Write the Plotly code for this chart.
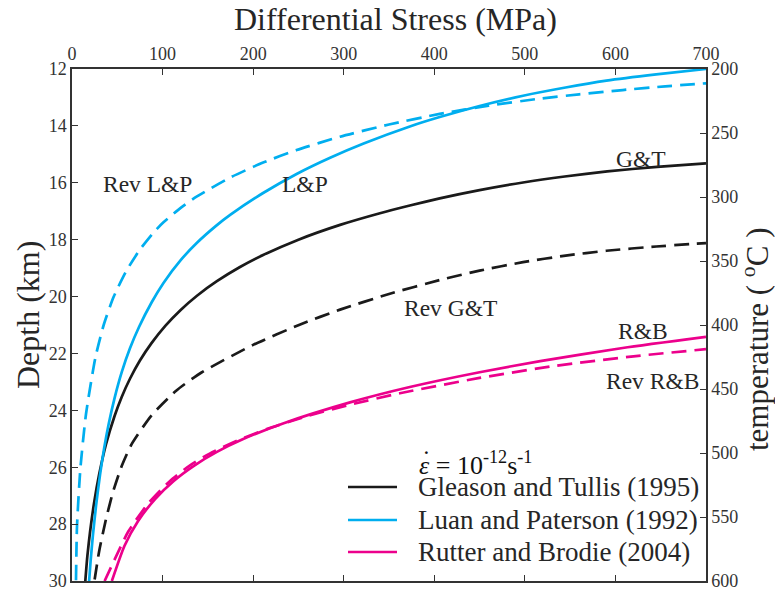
import plotly.graph_objects as go

# ---- data (differential stress in MPa, depth in km) ----
gt_stress = [14.7, 17, 20, 24.5, 30, 37.5, 47, 55, 64, 75, 88, 103, 120, 138, 160, 185, 211, 250, 296, 340, 373, 406, 450, 498, 544, 591, 646, 700]
gt_depth = [30, 29.11, 28.26, 27.23, 26.25, 25.2, 24.2, 23.52, 22.89, 22.25, 21.63, 21.03, 20.47, 19.97, 19.46, 18.97, 18.54, 18.0, 17.48, 17.07, 16.8, 16.55, 16.26, 15.99, 15.78, 15.6, 15.44, 15.32]

lp_stress = [18.9, 20.5, 23, 26.5, 31, 35.5, 40.5, 47, 55, 64, 74, 88, 101, 120, 138, 160, 175, 211, 248, 285, 322, 373, 406, 450, 498, 545, 590, 645, 700]
lp_depth = [30, 29.32, 28.42, 27.37, 26.25, 25.33, 24.48, 23.57, 22.65, 21.82, 21.07, 20.20, 19.52, 18.72, 18.11, 17.49, 17.12, 16.36, 15.69, 15.12, 14.62, 14.02, 13.69, 13.30, 12.94, 12.65, 12.41, 12.19, 12.0]

revlp_stress = [4.4, 5.5, 9.2, 15.5, 26, 35, 46, 60, 75, 90, 101, 120, 138, 175, 211, 248, 296, 350, 406, 460, 517, 560, 608, 655, 701]
revlp_depth = [29.97, 28.1, 26.07, 24.12, 22.12, 21.0, 20.01, 19.10, 18.35, 17.75, 17.39, 16.88, 16.48, 15.81, 15.29, 14.85, 14.38, 13.95, 13.58, 13.29, 13.04, 12.89, 12.74, 12.61, 12.5]

revgt_stress = [25, 30, 37, 45, 55, 66, 88, 115, 143, 200, 252, 296, 350, 406, 450, 498, 545, 590, 645, 700]
revgt_depth = [29.95, 28.95, 27.9, 26.9, 25.95, 25.18, 24.17, 23.31, 22.67, 21.70, 20.98, 20.46, 19.91, 19.42, 19.09, 18.79, 18.56, 18.39, 18.24, 18.12]

rb_stress = [44, 58, 73, 92, 112, 135, 160, 189, 233, 307, 373, 450, 517, 608, 700]
rb_depth = [30, 28.76, 27.89, 27.11, 26.49, 25.94, 25.46, 25.01, 24.46, 23.72, 23.18, 22.66, 22.27, 21.81, 21.42]

revrb_stress = [36, 47, 62, 84, 108, 130, 152, 185, 215, 260, 307, 362, 450, 535, 620, 700]
revrb_depth = [30, 29.25, 28.27, 27.28, 26.49, 25.94, 25.52, 25.03, 24.66, 24.20, 23.80, 23.40, 22.86, 22.43, 22.10, 21.85]

x_ticks = [0, 100, 200, 300, 400, 500, 600, 700]
depth_ticks = [12, 14, 16, 18, 20, 22, 24, 26, 28, 30]
temp_ticks = [200, 250, 300, 350, 400, 450, 500, 550, 600]

legend_names = ["Gleason and Tullis (1995)", "Luan and Paterson (1992)", "Rutter and Brodie (2004)"]

BLACK = "#1a1a1a"
CYAN = "#00aeef"
MAGENTA = "#ec008c"
FONT = "Liberation Serif, 'Times New Roman', Times, serif"
DASH = "15px,8px"
TXT = "#262626"

# plot-area geometry in pixels (used only to place paper-referenced text)
L, R, T, B = 72, 706, 69, 581


def px(xp):
    return (xp - L) / (R - L)


def py(yp):
    return (B - yp) / (B - T)


fig = go.Figure()


def add(x, y, color, dash, name):
    fig.add_trace(go.Scatter(
        x=x, y=y, mode="lines", name=name, showlegend=False,
        line=dict(color=color, width=2.7, dash=dash, shape="spline", smoothing=0.6),
        hoverinfo="skip"))


add(gt_stress, gt_depth, BLACK, "solid", legend_names[0])
add(lp_stress, lp_depth, CYAN, "solid", legend_names[1])
add(rb_stress, rb_depth, MAGENTA, "solid", legend_names[2])
add(revgt_stress, revgt_depth, BLACK, DASH, "Rev G&T")
add(revlp_stress, revlp_depth, CYAN, DASH, "Rev L&P")
add(revrb_stress, revrb_depth, MAGENTA, DASH, "Rev R&B")

# invisible trace to activate the temperature axis
fig.add_trace(go.Scatter(x=[0, 0], y=[temp_ticks[0], temp_ticks[-1]], yaxis="y2",
                         mode="lines", line=dict(width=0), showlegend=False,
                         hoverinfo="skip", opacity=0))

curve_labels = [
    ("Rev L&P", 83, 16.05),
    ("L&P", 257, 16.05),
    ("G&T", 628, 15.15),
    ("Rev G&T", 418, 20.4),
    ("R&B", 630, 21.2),
    ("Rev R&B", 641, 22.98),
]
for t, x, y in curve_labels:
    fig.add_annotation(x=x, y=y, text=t, showarrow=False,
                       font=dict(family=FONT, size=23.5, color=TXT))

# strain-rate label
fig.add_annotation(xref="paper", yref="paper", x=px(417), y=py(463), xanchor="left", yanchor="middle",
                   text="<i>ε</i> = 10<sup>-12</sup>s<sup>-1</sup>",
                   showarrow=False, font=dict(family=FONT, size=26, color="#111"))
fig.add_annotation(xref="paper", yref="paper", x=px(426), y=py(459), xanchor="center", yanchor="middle",
                   text="˙", showarrow=False, font=dict(family=FONT, size=26, color="#111"))

# manual legend
legend_colors = [BLACK, CYAN, MAGENTA]
legend_rows = [487, 520, 552]
for name, col, yr in zip(legend_names, legend_colors, legend_rows):
    fig.add_shape(type="line", xref="paper", yref="paper", x0=px(348), x1=px(397),
                  y0=py(yr), y1=py(yr), line=dict(color=col, width=2.7))
    fig.add_annotation(xref="paper", yref="paper", x=px(416), y=py(yr), xanchor="left", yanchor="middle",
                       text=name, showarrow=False, font=dict(family=FONT, size=27, color=TXT))

# axis titles
fig.add_annotation(xref="paper", yref="paper", x=px(395), y=py(19), text="Differential Stress (MPa)",
                   showarrow=False, xanchor="center", yanchor="middle",
                   font=dict(family=FONT, size=32, color=TXT))
fig.add_annotation(xref="paper", yref="paper", x=px(28), y=py(315), text="Depth (km)", textangle=-90,
                   showarrow=False, xanchor="center", yanchor="middle",
                   font=dict(family=FONT, size=32, color=TXT))
fig.add_annotation(xref="paper", yref="paper", x=px(755), y=py(340), text="temperature ( <sup>o</sup>C )",
                   textangle=-90, showarrow=False, xanchor="center", yanchor="middle",
                   font=dict(family=FONT, size=31, color=TXT))

axis_common = dict(showgrid=False, zeroline=False, ticks="inside", ticklen=6,
                   tickwidth=1.3, tickcolor="#333", showline=True, linecolor="#333",
                   linewidth=1.5, ticklabeloverflow="allow",
                   tickfont=dict(family=FONT, size=18, color="#333"))

fig.update_layout(
    width=775, height=590,
    margin=dict(l=L, r=775 - R, t=T, b=590 - B, autoexpand=False),
    paper_bgcolor="white", plot_bgcolor="white",
    font=dict(family=FONT, color=TXT),
    showlegend=False,
    xaxis=dict(side="top", range=[0, 700], tickvals=x_ticks, mirror="ticks", **axis_common),
    yaxis=dict(range=[30, 12], tickvals=depth_ticks, mirror=True, **axis_common),
    yaxis2=dict(overlaying="y", side="right", range=[600, 200], tickvals=temp_ticks, **axis_common),
)

fig.write_html("out.html")
